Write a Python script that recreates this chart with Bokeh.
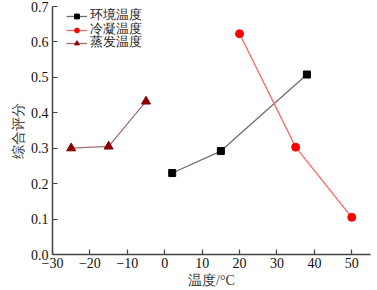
from bokeh.plotting import figure
from bokeh.models import FixedTicker, PrintfTickFormatter, Range1d, Legend, LegendItem
from bokeh.embed import file_html
from bokeh.resources import INLINE

# data
env_x = [2, 15, 38]
env_y = [0.23, 0.292, 0.508]
cond_x = [20, 35, 50]
cond_y = [0.623, 0.303, 0.105]
evap_x = [-25, -15, -5]
evap_y = [0.300, 0.305, 0.432]
series_names = ["环境温度", "冷凝温度", "蒸发温度"]
x_ticks = [-30, -20, -10, 0, 10, 20, 30, 40, 50]
y_ticks = [0.0, 0.1, 0.2, 0.3, 0.4, 0.5, 0.6, 0.7]
x_title = "温度/°C"
y_title = "综合评分"

SERIF = "Liberation Serif"

p = figure(width=377, height=290, output_backend="svg", toolbar_location=None,
           x_range=Range1d(-30, 55), y_range=Range1d(0, 0.7),
           min_border_left=52, min_border_right=7, min_border_top=6, min_border_bottom=36)
p.outline_line_color = None
p.grid.visible = False
p.background_fill_color = "white"
p.border_fill_color = "white"

r1l = p.line(env_x, env_y, line_color="#6e6e6e", line_width=1.3)
r1m = p.scatter(env_x, env_y, marker="square", size=7, fill_color="black", line_color="black")
r2l = p.line(cond_x, cond_y, line_color="#ff6666", line_width=1.3)
r2m = p.scatter(cond_x, cond_y, marker="circle", size=8, fill_color="#ff0000", line_color="#ff0000")
r3l = p.line(evap_x, evap_y, line_color="#a07070", line_width=1.3)
r3m = p.scatter(evap_x, evap_y, marker="triangle", size=9, fill_color="#8b0000", line_color="#8b0000")

renderer_sets = [[r1l, r1m], [r2l, r2m], [r3l, r3m]]
legend_y = [230, 216, 203]
for name, rs, ly in zip(series_names, renderer_sets, legend_y):
    lg = Legend(items=[LegendItem(label=name, renderers=rs)], location=(14, ly))
    lg.border_line_color = None
    lg.background_fill_alpha = 0
    lg.padding = 0
    lg.margin = 0
    lg.spacing = 0
    lg.label_height = 12
    lg.glyph_height = 12
    lg.glyph_width = 21
    lg.label_standoff = 3
    lg.label_text_font = SERIF
    lg.label_text_font_size = "12.5px"
    lg.label_text_color = "#222222"
    p.add_layout(lg)

for ax in (p.xaxis[0], p.yaxis[0]):
    ax.axis_line_color = "#444444"
    ax.axis_line_width = 1.5
    ax.major_tick_line_color = "#444444"
    ax.major_tick_line_width = 1.2
    ax.major_tick_in = 5
    ax.major_tick_out = 0
    ax.minor_tick_line_color = None
    ax.major_label_text_font = SERIF
    ax.major_label_text_font_size = "14px"
    ax.major_label_text_color = "#111111"
    ax.axis_label_text_font = SERIF
    ax.axis_label_text_font_size = "14px"
    ax.axis_label_text_font_style = "normal"
    ax.axis_label_text_color = "#333333"

p.xaxis.ticker = FixedTicker(ticks=x_ticks)
p.xaxis.major_label_overrides = {t: (("\u2212" + str(-t)) if t < 0 else str(t)) for t in x_ticks}
p.xaxis.major_label_standoff = 3
p.xaxis.axis_label = x_title
p.xaxis.axis_label_standoff = 2

p.yaxis.ticker = FixedTicker(ticks=y_ticks)
p.yaxis.formatter = PrintfTickFormatter(format="%.1f")
p.yaxis.major_label_standoff = 4
p.yaxis.axis_label = y_title
p.yaxis.axis_label_standoff = 2

open("out.html", "w").write(file_html(p, INLINE))
